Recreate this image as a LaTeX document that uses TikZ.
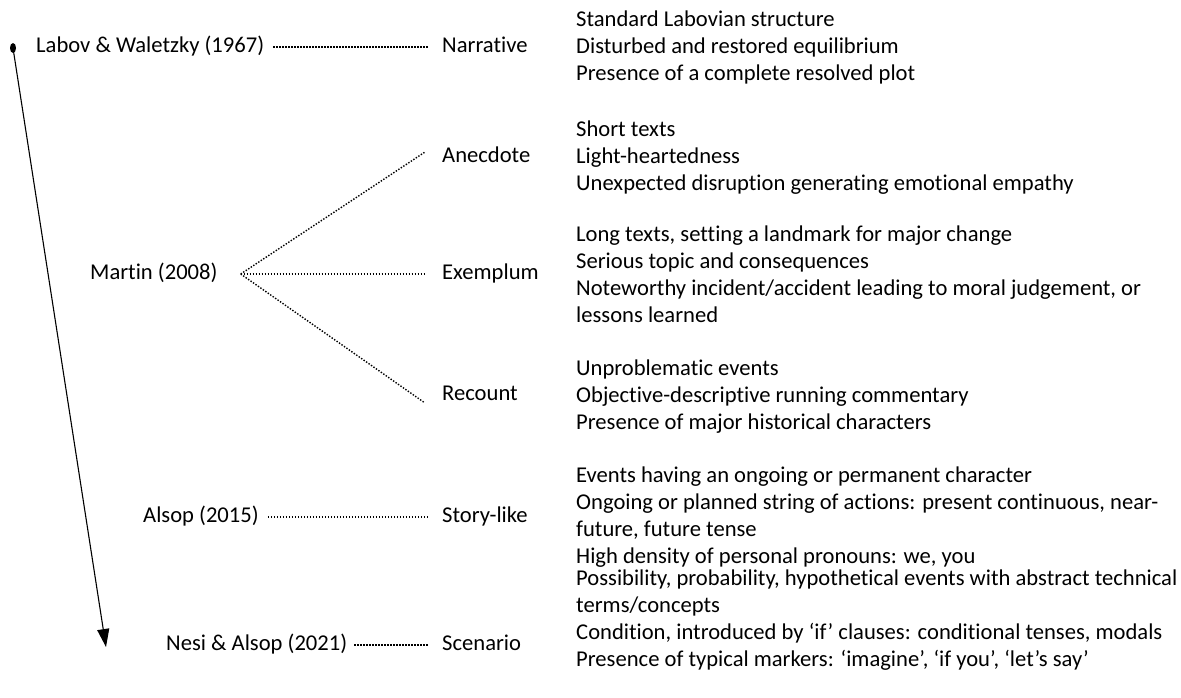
\documentclass[tikz,border=0pt]{standalone}
\usepackage{fontspec}
\setmainfont{Carlito}[Ligatures=NoCommon]
\usetikzlibrary{arrows.meta,shapes.geometric}
\begin{document}
\begin{tikzpicture}[x=1pt,y=-1pt,
  lab/.style={inner sep=0pt, anchor=west, text height=16pt, text depth=5pt, font=\fontsize{22.6}{27}\selectfont},
  desc/.style={inner sep=0pt, anchor=base west, align=left, font=\fontsize{22.6}{27}\selectfont},
  dotline/.style={line width=1.4pt, dash pattern=on 1.4pt off 1.6pt},
  timeline/.style={line width=1.1pt, -{Triangle[length=18pt,width=12pt]}}]
\useasboundingbox (0,0) rectangle (1181,697);
% left labels
\node[lab] (labov) at (36,47) {Labov \& Waletzky (1967)};
\node[lab] (martin) at (90,274) {Martin (2008)};
\node[lab] (alsop) at (143,517) {Alsop (2015)};
\node[lab] (nesi) at (166,645) {Nesi \& Alsop (2021)};
% categories
\node[lab] (narrative) at (442,47) {Narrative};
\node[lab] (anecdote) at (442,157) {Anecdote};
\node[lab] (exemplum) at (442,274) {Exemplum};
\node[lab] (recount) at (442,395) {Recount};
\node[lab] (storylike) at (442,517) {Story-like};
\node[lab] (scenario) at (442,645) {Scenario};
% descriptions (anchor at baseline of last line)
\node[desc] (d1) at (576,80) {Standard Labovian structure\\Disturbed and restored equilibrium\\Presence of a complete resolved plot};
\node[desc] (d2) at (576,190) {Short texts\\Light-heartedness\\Unexpected disruption generating emotional empathy};
\node[desc] (d3) at (576,322) {Long texts, setting a landmark for major change\\Serious topic and consequences\\Noteworthy incident/accident leading to moral judgement, or\\lessons learned};
\node[desc] (d4) at (576,429) {Unproblematic events\\Objective-descriptive running commentary\\Presence of major historical characters};
\node[desc] (d5) at (576,563) {Events having an ongoing or permanent character\\Ongoing or planned string of actions: present continuous, near-\\future, future tense\\High density of personal pronouns: we, you};
\node[desc] (d6) at (576,666) {Possibility, probability, hypothetical events with abstract technical\\terms/concepts\\Condition, introduced by `if' clauses: conditional tenses, modals\\Presence of typical markers: `imagine', `if you', `let's say'};
% timeline
\node[fill=black, ellipse, inner sep=0pt, minimum width=6pt, minimum height=10pt] (dot) at (13,48) {};
\coordinate (tip) at (106,647);
\draw[timeline] (dot.center) -- (tip);
% dotted connectors
\draw[dotline] ([xshift=9pt]labov.east) -- ([xshift=-14pt]narrative.west);
\draw[dotline] ([xshift=9pt]alsop.east) -- ([xshift=-14pt]storylike.west);
\draw[dotline] ([xshift=7pt]nesi.east) -- ([xshift=-14pt]scenario.west);
\coordinate (fan) at ([xshift=23pt]martin.east);
\draw[dotline] (fan) -- ([xshift=-17pt,yshift=5pt]anecdote.west);
\draw[dotline] (fan) -- ([xshift=-17pt]exemplum.west);
\draw[dotline] (fan) -- ([xshift=-17pt,yshift=-8pt]recount.west);
\end{tikzpicture}
\end{document}
